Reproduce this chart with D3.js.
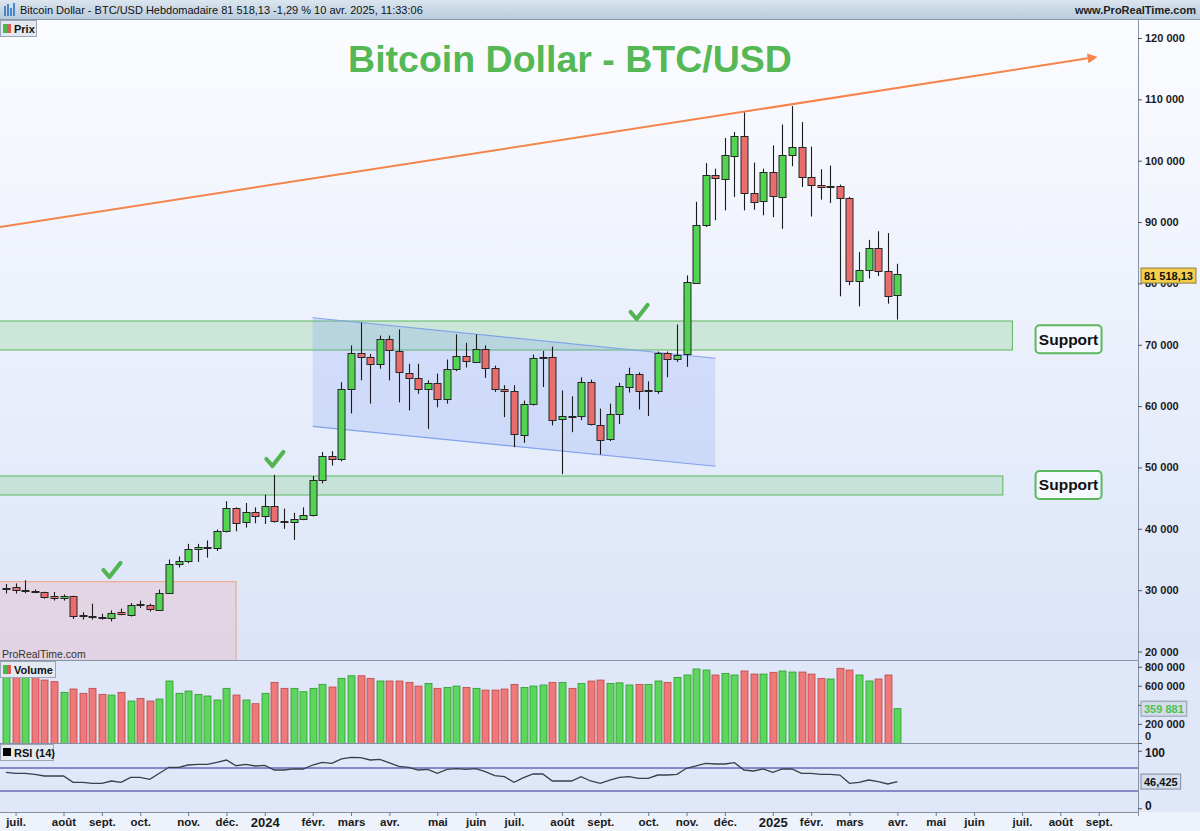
<!DOCTYPE html>
<html><head><meta charset="utf-8">
<script src="https://cdn.jsdelivr.net/npm/d3@7/dist/d3.min.js"></script>
<style>
html,body{margin:0;padding:0;background:#fff;}
svg{display:block;font-family:"Liberation Sans",Arial,Helvetica,sans-serif;}
</style></head><body>
<svg id="chart" width="1200" height="831"></svg>
<script>
// ---------------- DATA ----------------
const weeks = ["2023-06-26","2023-07-03","2023-07-10","2023-07-17","2023-07-24","2023-07-31","2023-08-07","2023-08-14","2023-08-21","2023-08-28","2023-09-04","2023-09-11","2023-09-18","2023-09-25","2023-10-02","2023-10-09","2023-10-16","2023-10-23","2023-10-30","2023-11-06","2023-11-13","2023-11-20","2023-11-27","2023-12-04","2023-12-11","2023-12-18","2023-12-25",
"2024-01-01","2024-01-08","2024-01-15","2024-01-22","2024-01-29","2024-02-05","2024-02-12","2024-02-19","2024-02-26","2024-03-04","2024-03-11","2024-03-18","2024-03-25","2024-04-01","2024-04-08","2024-04-15","2024-04-22","2024-04-29","2024-05-06","2024-05-13","2024-05-20","2024-05-27","2024-06-03","2024-06-10","2024-06-17","2024-06-24","2024-07-01","2024-07-08","2024-07-15","2024-07-22","2024-07-29","2024-08-05","2024-08-12","2024-08-19","2024-08-26","2024-09-02","2024-09-09","2024-09-16","2024-09-23","2024-09-30","2024-10-07","2024-10-14","2024-10-21","2024-10-28","2024-11-04","2024-11-11","2024-11-18","2024-11-25","2024-12-02","2024-12-09","2024-12-16","2024-12-23","2024-12-30",
"2025-01-06","2025-01-13","2025-01-20","2025-01-27","2025-02-03","2025-02-10","2025-02-17","2025-02-24","2025-03-03","2025-03-10","2025-03-17","2025-03-24","2025-03-31","2025-04-07"];

const open = [30300,30480,29950,29850,29700,28970,28600,29000,25900,25850,25700,25500,26400,26000,27800,27600,26900,29600,34300,34750,36700,37000,37000,39600,43400,41000,42700,
42000,43650,41250,41200,41650,42300,48000,51850,51400,62800,68700,68000,66900,71000,68900,65400,64600,62800,63800,61100,65950,68150,67300,69350,66250,62800,62400,55400,60400,67950,68000,57800,58400,58300,63900,57000,54600,58750,63250,65300,62500,62550,68700,67700,68400,80100,89500,97600,97100,100900,104100,94800,93400,
98100,94200,101000,102250,97350,96100,95750,95950,93950,80450,82200,85800,82100,78050];
const high = [31000,31100,31600,30100,29750,29700,29300,29100,26400,27800,26150,26700,27000,27900,28300,27800,30100,35000,35500,37550,37550,38100,39900,44500,43500,44200,43500,
45550,48800,43300,42600,43500,48600,52500,52650,63900,69900,73600,68500,71500,71500,72500,66900,66900,64200,65300,67600,71700,70300,71700,69900,66600,63400,63400,60900,68400,69000,69700,62550,61600,64700,64300,59600,60400,63800,66250,65500,64050,68900,68900,73300,81300,93300,99600,98700,103700,104700,107900,99700,98700,
102500,105900,108900,106300,102300,98600,99200,96100,94100,85100,87100,88500,88200,83200];
const low = [29450,29450,29500,29500,28600,28300,28300,25300,25200,25200,25200,24900,25900,25700,27100,26500,26700,29400,33700,34400,34600,35300,36400,39400,39600,40200,40900,
40800,41000,40000,38200,41400,42000,47400,50300,51000,58800,64200,60400,66100,64200,60600,59300,62000,56300,59800,60400,65700,66300,67200,64600,62300,58200,53300,54000,60100,63100,56850,48900,55750,57700,56850,52100,54300,57100,62200,59450,58400,62000,64700,67200,66400,80000,89200,90300,91900,94100,91900,92000,91100,
90800,88900,99100,95700,90900,93650,93100,77900,79700,76250,80800,81200,76700,74100];
const close = [30400,29950,30020,29800,28900,28600,28970,25800,25850,25750,25620,26300,26000,27600,27750,26950,29600,34300,34800,36750,37100,37050,39700,43400,41000,42700,42000,
43650,41250,41200,41650,42300,48000,51900,51400,62800,68700,68000,66900,71000,69200,65400,64600,62800,63800,61200,66000,68150,67300,69350,66250,62800,62400,55400,60400,67900,68050,57800,58350,58300,63900,57000,54600,58750,63250,65300,62550,62600,68700,67700,68400,80200,89500,97600,97100,101000,104100,94800,93400,98100,
94200,101000,102250,97350,96100,95800,95850,93950,80450,82200,85800,82100,78050,81518.13];
const volume = [700000,700000,700000,685000,660000,643000,531000,566000,521000,573000,510000,503000,531000,440000,468000,440000,461000,650000,521000,545000,510000,493000,451000,573000,503000,451000,412000,
521000,636000,573000,573000,538000,573000,615000,587000,678000,705000,705000,678000,650000,650000,650000,636000,597000,625000,573000,583000,597000,583000,573000,555000,555000,566000,615000,583000,597000,608000,636000,636000,573000,625000,650000,660000,625000,631000,608000,615000,615000,650000,636000,688000,713000,776000,765000,713000,730000,713000,755000,723000,723000,
741000,755000,744000,744000,723000,678000,671000,783000,765000,713000,650000,671000,713000,359881];
const rsi = [62.5,60.8,60.8,59.0,56.1,56.1,56.1,45.1,45.1,43.4,43.4,47.4,45.1,53.8,53.8,50.3,60.8,71.2,71.2,75.2,76.4,76.4,79.9,83.9,74.0,76.4,73.5,
74.7,66.5,66.5,68.3,68.3,75.2,79.9,78.2,85.7,88.6,87.9,83.9,85.1,79.0,73.0,71.2,66.5,67.7,60.8,67.7,68.8,67.7,68.8,63.6,56.6,54.9,45.1,53.1,59.6,59.6,47.4,47.4,47.4,54.9,47.4,43.4,49.1,53.8,54.9,52.1,52.1,57.8,57.8,59.0,69.5,73.5,78.2,77.0,77.0,79.2,66.5,64.8,68.3,
62.5,68.3,68.3,60.8,60.8,59.0,59.0,57.8,43.4,45.1,49.1,46.2,42.2,46.425];

const tickDates = ["2023-07-03","2023-08-07","2023-09-04","2023-10-02","2023-11-06","2023-12-04","2024-01-01","2024-02-05","2024-03-04","2024-04-01","2024-05-06","2024-06-03","2024-07-01","2024-08-05","2024-09-02","2024-10-07","2024-11-04","2024-12-02","2025-01-06","2025-02-03","2025-03-03","2025-04-07","2025-05-05","2025-06-02","2025-07-07","2025-08-04","2025-09-01"];
const tickLabels = ["juil.","août","sept.","oct.","nov.","déc.","2024","févr.","mars","avr.","mai","juin","juil.","août","sept.","oct.","nov.","déc.","2025","févr.","mars","avr.","mai","juin","juil.","août","sept."];
const priceTicks = [20000,30000,40000,50000,60000,70000,80000,90000,100000,110000,120000];
const volumeTicks = [0,200000,400000,600000,800000];
const rsiTicks = [0,100];
const rsiLevels = [30,70];

// annotations (dates / prices)
const trendLine = [{d:"2023-06-21",p:89190},{d:"2025-09-01",p:116950}];
const channel = [{d:"2024-02-05",p:74400},{d:"2024-11-25",p:67800},{d:"2024-11-25",p:50200},{d:"2024-02-05",p:56700}];
const supportZones = [{d0:"2023-06-12",d1:"2025-06-30",p0:69144,p1:73871},{d0:"2023-06-12",d1:"2025-06-23",p0:45509,p1:48606}];
const supportLabels = [{d:"2025-08-10",p:70900,t:"Support"},{d:"2025-08-10",p:47140,t:"Support"}];
const pinkBox = {d0:"2023-06-12",d1:"2023-12-11",p0:15000,p1:31377};
const checks = [{d:"2023-09-11",p:33121},{d:"2024-01-08",p:51214},{d:"2024-09-30",p:75175}];

// ---------------- LAYOUT ----------------
const svg = d3.select("#chart");
const AX = 1138;
const P = {top:20,bottom:660}, V = {top:660,bottom:743}, R = {top:743,bottom:812};
const parse = d3.utcParse("%Y-%m-%d");
const dates = weeks.map(parse);
const x = d3.scaleUtc().domain([dates[0], dates[dates.length-1]]).range([6, 897.4]);
const y = d3.scaleLinear().domain([20000,120000]).range([651.5,38]);
const yv = d3.scaleLinear().domain([0,800000]).range([743,666.7]);
const yr = d3.scaleLinear().domain([0,100]).range([808.25,750.75]);
const sp = v => d3.format(",")(v).replace(/,/g," ");

const defs = svg.append("defs");
const g1 = defs.append("linearGradient").attr("id","bgP").attr("x1",0).attr("y1",0).attr("x2",0).attr("y2",1);
g1.append("stop").attr("offset","0%").attr("stop-color","#fbfcff");
g1.append("stop").attr("offset","100%").attr("stop-color","#dbe4f8");
const g2 = defs.append("linearGradient").attr("id","bgH").attr("x1",0).attr("y1",0).attr("x2",0).attr("y2",1);
g2.append("stop").attr("offset","0%").attr("stop-color","#dbe5ef");
g2.append("stop").attr("offset","100%").attr("stop-color","#b7cadd");
defs.append("clipPath").attr("id","clipP").append("rect").attr("x",0).attr("y",P.top).attr("width",AX).attr("height",P.bottom-P.top);
defs.append("clipPath").attr("id","clipV").append("rect").attr("x",0).attr("y",V.top).attr("width",AX).attr("height",V.bottom-V.top);
defs.append("marker").attr("id","arrow").attr("viewBox","0 0 10 10").attr("refX",2).attr("refY",5)
  .attr("markerWidth",5).attr("markerHeight",5).attr("orient","auto")
  .append("path").attr("d","M0,0 L10,5 L0,10 z").attr("fill","#f5844a");

// backgrounds
svg.append("rect").attr("width",1200).attr("height",831).attr("fill","#eef2fa");
svg.append("rect").attr("x",0).attr("y",P.top).attr("width",1200).attr("height",P.bottom-P.top).attr("fill","url(#bgP)");
svg.append("rect").attr("x",0).attr("y",V.top).attr("width",1200).attr("height",R.bottom-V.top).attr("fill","#dfe7f9");
svg.append("rect").attr("x",0).attr("y",0).attr("width",1200).attr("height",20).attr("fill","url(#bgH)");
svg.append("line").attr("x1",0).attr("x2",1200).attr("y1",19.5).attr("y2",19.5).attr("stroke","#8797aa");

// header
const hi = svg.append("g");
[[4,6,10],[7,4,12],[10,8,8],[13,3,13]].forEach(b=>{
  hi.append("rect").attr("x",b[0]).attr("y",b[1]).attr("width",2).attr("height",b[2]).attr("fill","#4a86c8");
});
svg.append("text").attr("x",20).attr("y",14).attr("font-size",11).attr("fill","#111")
  .text("Bitcoin Dollar - BTC/USD Hebdomadaire 81 518,13 -1,29 % 10 avr. 2025, 11:33:06");
svg.append("text").attr("x",1196).attr("y",14).attr("font-size",11).attr("font-weight","bold").attr("fill","#222")
  .attr("text-anchor","end").text("www.ProRealTime.com");

// ---------------- PRICE PANEL ----------------
const gp = svg.append("g").attr("clip-path","url(#clipP)");
gp.append("rect").attr("x",x(parse(pinkBox.d0))).attr("y",y(pinkBox.p1))
  .attr("width",x(parse(pinkBox.d1))-x(parse(pinkBox.d0))).attr("height",y(pinkBox.p0)-y(pinkBox.p1))
  .attr("fill","rgba(240,170,175,0.28)").attr("stroke","#f0a27a").attr("stroke-width",1);
gp.selectAll("rect.zone").data(supportZones).join("rect").attr("class","zone")
  .attr("x",d=>x(parse(d.d0))).attr("y",d=>y(d.p1))
  .attr("width",d=>x(parse(d.d1))-x(parse(d.d0))).attr("height",d=>y(d.p0)-y(d.p1))
  .attr("fill","rgba(140,210,150,0.33)").attr("stroke","#5cb85c").attr("stroke-width",1);
gp.append("polygon").attr("points",channel.map(c=>[x(parse(c.d)),y(c.p)].join(",")).join(" "))
  .attr("fill","rgba(120,155,240,0.22)");
gp.append("line").attr("x1",x(parse(channel[0].d))).attr("y1",y(channel[0].p)).attr("x2",x(parse(channel[1].d))).attr("y2",y(channel[1].p))
  .attr("stroke","#7fa3ea").attr("stroke-width",1.2);
gp.append("line").attr("x1",x(parse(channel[3].d))).attr("y1",y(channel[3].p)).attr("x2",x(parse(channel[2].d))).attr("y2",y(channel[2].p))
  .attr("stroke","#7fa3ea").attr("stroke-width",1.2);

const candles = dates.map((d,i)=>({d,o:open[i],h:high[i],l:low[i],c:close[i],v:volume[i],r:rsi[i]}));
const cx = d => Math.round(x(d.d));
gp.selectAll("line.wick").data(candles).join("line").attr("class","wick")
  .attr("x1",d=>cx(d)+0.5).attr("x2",d=>cx(d)+0.5).attr("y1",d=>y(d.h)).attr("y2",d=>y(d.l))
  .attr("stroke","#1a1a1a").attr("stroke-width",1.1);
gp.selectAll("rect.body").data(candles).join("rect").attr("class","body")
  .attr("x",d=>cx(d)-3).attr("width",7)
  .attr("y",d=>Math.round(y(Math.max(d.o,d.c)))+0.5)
  .attr("height",d=>Math.max(1,Math.round(Math.abs(y(d.o)-y(d.c)))))
  .attr("fill",d=>d.c>=d.o?"#52d352":"#e96d6d")
  .attr("stroke","#262626").attr("stroke-width",1);

gp.append("line").attr("x1",x(parse(trendLine[0].d))).attr("y1",y(trendLine[0].p))
  .attr("x2",x(parse(trendLine[1].d))-9).attr("y2",y(trendLine[1].p)+1.4)
  .attr("stroke","#f5844a").attr("stroke-width",2).attr("marker-end","url(#arrow)");

gp.selectAll("path.check").data(checks).join("path").attr("class","check")
  .attr("transform",d=>`translate(${x(parse(d.d))},${y(d.p)})`)
  .attr("d","M-8,-1 L-2,6 L9,-8")
  .attr("fill","none").attr("stroke","#52b552").attr("stroke-width",4.2)
  .attr("stroke-linecap","round").attr("stroke-linejoin","round");

const sl = svg.selectAll("g.sl").data(supportLabels).join("g").attr("class","sl")
  .attr("transform",d=>`translate(${x(parse(d.d))},${y(d.p)})`);
sl.append("rect").attr("x",-33).attr("y",-14).attr("width",66).attr("height",28).attr("rx",4)
  .attr("fill","#f5f8fe").attr("stroke","#5cb85c").attr("stroke-width",2);
sl.append("text").attr("text-anchor","middle").attr("y",5.5).attr("font-size",15.5).attr("font-weight","bold")
  .attr("fill","#111").text(d=>d.t);

svg.append("text").attr("x",570).attr("y",72).attr("text-anchor","middle").attr("font-size",37.5)
  .attr("font-weight","bold").attr("fill","#55b855").text("Bitcoin Dollar - BTC/USD");

svg.append("text").attr("x",2).attr("y",658).attr("font-size",10.5).attr("fill","#333").text("ProRealTime.com");

// ---------------- VOLUME ----------------
const gv = svg.append("g").attr("clip-path","url(#clipV)");
gv.selectAll("rect.vol").data(candles).join("rect").attr("class","vol")
  .attr("x",d=>cx(d)-3).attr("width",7)
  .attr("y",d=>yv(d.v)).attr("height",d=>yv(0)-yv(d.v)+1)
  .attr("fill",d=>d.c>=d.o?"#5cd65c":"#ef7878")
  .attr("stroke",d=>d.c>=d.o?"#2e9a2e":"#b94848").attr("stroke-width",0.8);

// ---------------- RSI ----------------
svg.selectAll("line.lvl").data(rsiLevels).join("line").attr("class","lvl")
  .attr("x1",0).attr("x2",AX).attr("y1",d=>yr(d)).attr("y2",d=>yr(d))
  .attr("stroke","#2c2c96").attr("stroke-width",1);
svg.append("path").datum(candles)
  .attr("d",d3.line().x(d=>x(d.d)).y(d=>yr(d.r)))
  .attr("fill","none").attr("stroke","#3a3f4a").attr("stroke-width",1.3);

// ---------------- FRAMES ----------------
[V.top,R.top,R.bottom].forEach(v=>{
  svg.append("line").attr("x1",0).attr("x2",AX).attr("y1",v+0.5).attr("y2",v+0.5).attr("stroke","#8592a6").attr("stroke-width",1.2);
});
svg.append("line").attr("x1",AX+0.5).attr("x2",AX+0.5).attr("y1",P.top).attr("y2",R.bottom+4).attr("stroke","#8592a6");

function panelLabel(yTop,w,txt,icon){
  const g = svg.append("g");
  g.append("rect").attr("x",0.5).attr("y",yTop+0.5).attr("width",w).attr("height",16).attr("fill","#e4e9f1").attr("stroke","#9ba7b6");
  if(icon==="rg"){
    g.append("rect").attr("x",3).attr("y",yTop+4).attr("width",4).attr("height",9).attr("fill","#46b946");
    g.append("rect").attr("x",7).attr("y",yTop+4).attr("width",4).attr("height",9).attr("fill","#e05a5a");
  } else {
    g.append("rect").attr("x",3).attr("y",yTop+4).attr("width",8).attr("height",8).attr("fill","#000");
  }
  g.append("text").attr("x",14).attr("y",yTop+12.5).attr("font-size",11).attr("font-weight","bold").attr("fill","#111").text(txt);
}
panelLabel(20,36,"Prix","rg");
panelLabel(V.top+1,55,"Volume","rg");
panelLabel(R.top+1,53,"RSI (14)","k");

// ---------------- AXES ----------------
function styleAxis(g,size){
  g.select(".domain").remove();
  g.selectAll(".tick line").attr("stroke","#555");
  g.selectAll(".tick text").attr("font-size",size||11).attr("font-weight","bold").attr("fill","#1a1a1a")
    .attr("font-family","'Liberation Sans',Arial,sans-serif");
}
const ap = svg.append("g").attr("transform",`translate(${AX},0)`)
  .call(d3.axisRight(y).tickValues(priceTicks).tickSize(4).tickPadding(3).tickFormat(sp));
styleAxis(ap);
const avv = svg.append("g").attr("transform",`translate(${AX},0)`)
  .call(d3.axisRight(yv).tickValues(volumeTicks).tickSize(4).tickPadding(3).tickFormat(sp));
styleAxis(avv);
avv.selectAll(".tick text").attr("dy",d=>d===0?"-0.3em":"0.32em");
const ar = svg.append("g").attr("transform",`translate(${AX},0)`)
  .call(d3.axisRight(yr).tickValues(rsiTicks).tickSize(4).tickPadding(3).tickFormat(d3.format("d")));
styleAxis(ar, 12);
ar.selectAll(".tick text").attr("dy",d=>d===0?"0.1em":"0.45em");

const axb = svg.append("g").attr("transform",`translate(0,${R.bottom})`)
  .call(d3.axisBottom(x).tickValues(tickDates.map(parse)).tickSize(4).tickPadding(2).tickFormat((d,i)=>tickLabels[i]));
styleAxis(axb);
axb.selectAll(".tick text").attr("font-size",(d,i)=>/^\d{4}$/.test(tickLabels[i])?13:11.5);
axb.selectAll(".tick line").attr("stroke","#6b778a");

function valBox(yc,txt,fill,stroke,color){
  const g = svg.append("g").attr("transform",`translate(${AX+3},${yc})`);
  const t = g.append("text").attr("x",3).attr("y",4).attr("font-size",11).attr("font-weight","bold").attr("fill",color).text(txt);
  const w = t.node().getComputedTextLength()+6;
  g.insert("rect","text").attr("x",0).attr("y",-7.5).attr("width",w).attr("height",15).attr("fill",fill).attr("stroke",stroke);
}
valBox(y(close[close.length-1])+1.5,"81 518,13","#f6cf4a","#8a7a40","#111");
valBox(yv(volume[volume.length-1]),"359 881","#d3dceb","#8c99ab","#4bc24b");
valBox(yr(rsi[rsi.length-1]),"46,425","#d6deec","#7d8a9e","#111");
</script>
</body></html>
